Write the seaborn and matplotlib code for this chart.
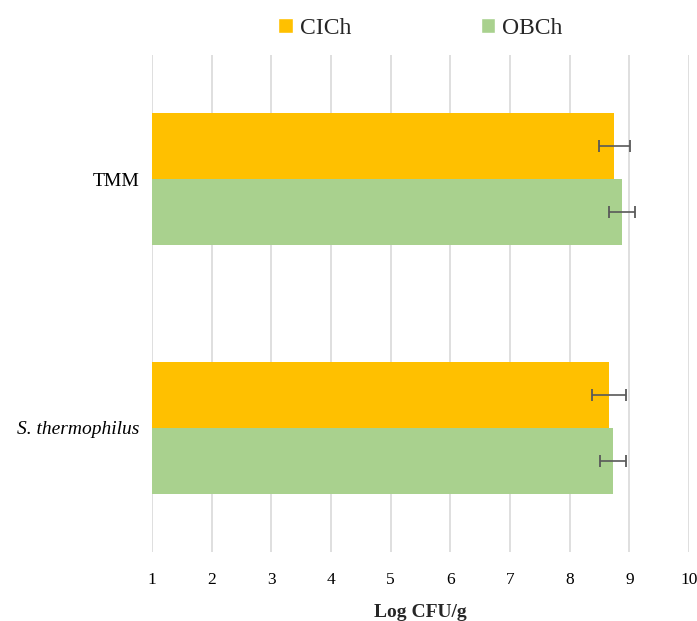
import matplotlib
matplotlib.use("Agg")
import matplotlib.pyplot as plt
import pandas as pd
import seaborn as sns
from matplotlib.patches import Patch

# Data
bacteria = ["TMM", "S. thermophilus"]
cheeses = ["CICh", "OBCh"]
cich_vals = [8.75, 8.66]
obch_vals = [8.88, 8.73]
cich_err = [0.26, 0.29]
obch_err = [0.22, 0.22]
colors = {"CICh": "#FFC000", "OBCh": "#A9D18E"}

df = pd.DataFrame(
    {
        "bacteria": bacteria * 2,
        "cheese": ["CICh"] * 2 + ["OBCh"] * 2,
        "value": cich_vals + obch_vals,
        "err": cich_err + obch_err,
    }
)

sns.set_style("white")
plt.rcParams["font.family"] = ["Liberation Serif", "DejaVu Serif"]

fig = plt.figure(figsize=(6.97, 6.21), dpi=100)
ax = fig.add_axes([0.218, 0.111, 0.7705, 0.8003])

sns.barplot(
    data=df,
    x="value",
    y="bacteria",
    hue="cheese",
    hue_order=cheeses,
    order=bacteria,
    palette=colors,
    saturation=1,
    linewidth=0,
    orient="h",
    width=0.53,
    errorbar=None,
    legend=False,
    ax=ax,
)

# error bars at the bar ends, positions taken from the drawn patches
bars = [p for p in ax.patches if p.get_height() > 0]
errs = {}
for _, row in df.iterrows():
    errs[(row["cheese"], row["bacteria"])] = (row["value"], row["err"])
k = 0
for c in cheeses:
    for b in bacteria:
        p = bars[k]
        k += 1
        val, e = errs[(c, b)]
        yc = p.get_y() + p.get_height() / 2
        ax.errorbar(val, yc, xerr=e, fmt="none", ecolor="#595959",
                    elinewidth=1.2, capsize=4, capthick=1.3, zorder=5)

ax.set_xlim(1, 10)
ax.set_ylim(1.5, -0.5)
ax.set_xticks(range(1, 11))
ax.xaxis.grid(True, color="#D9D9D9", linewidth=1.2)
ax.set_axisbelow(True)
for s in ax.spines.values():
    s.set_visible(False)
ax.tick_params(axis="both", length=0, colors="black")
ax.tick_params(axis="x", pad=14, labelsize=12.5)
ax.tick_params(axis="y", pad=9, labelsize=14)
ax.set_ylabel("")
ax.set_xlabel("Log CFU/g", fontsize=14, fontweight="bold", labelpad=12)
for lbl in ax.get_yticklabels():
    if lbl.get_text().startswith("S."):
        lbl.set_style("italic")

handles = [Patch(facecolor=colors[c], label=c) for c in cheeses]
ax.legend(handles=handles, loc="lower center", bbox_to_anchor=(0.5, 0.99),
          ncol=2, frameon=False, fontsize=17, handlelength=0.6,
          handleheight=0.6, handletextpad=0.3, columnspacing=5.5)

fig.savefig("out.png", dpi=100)
